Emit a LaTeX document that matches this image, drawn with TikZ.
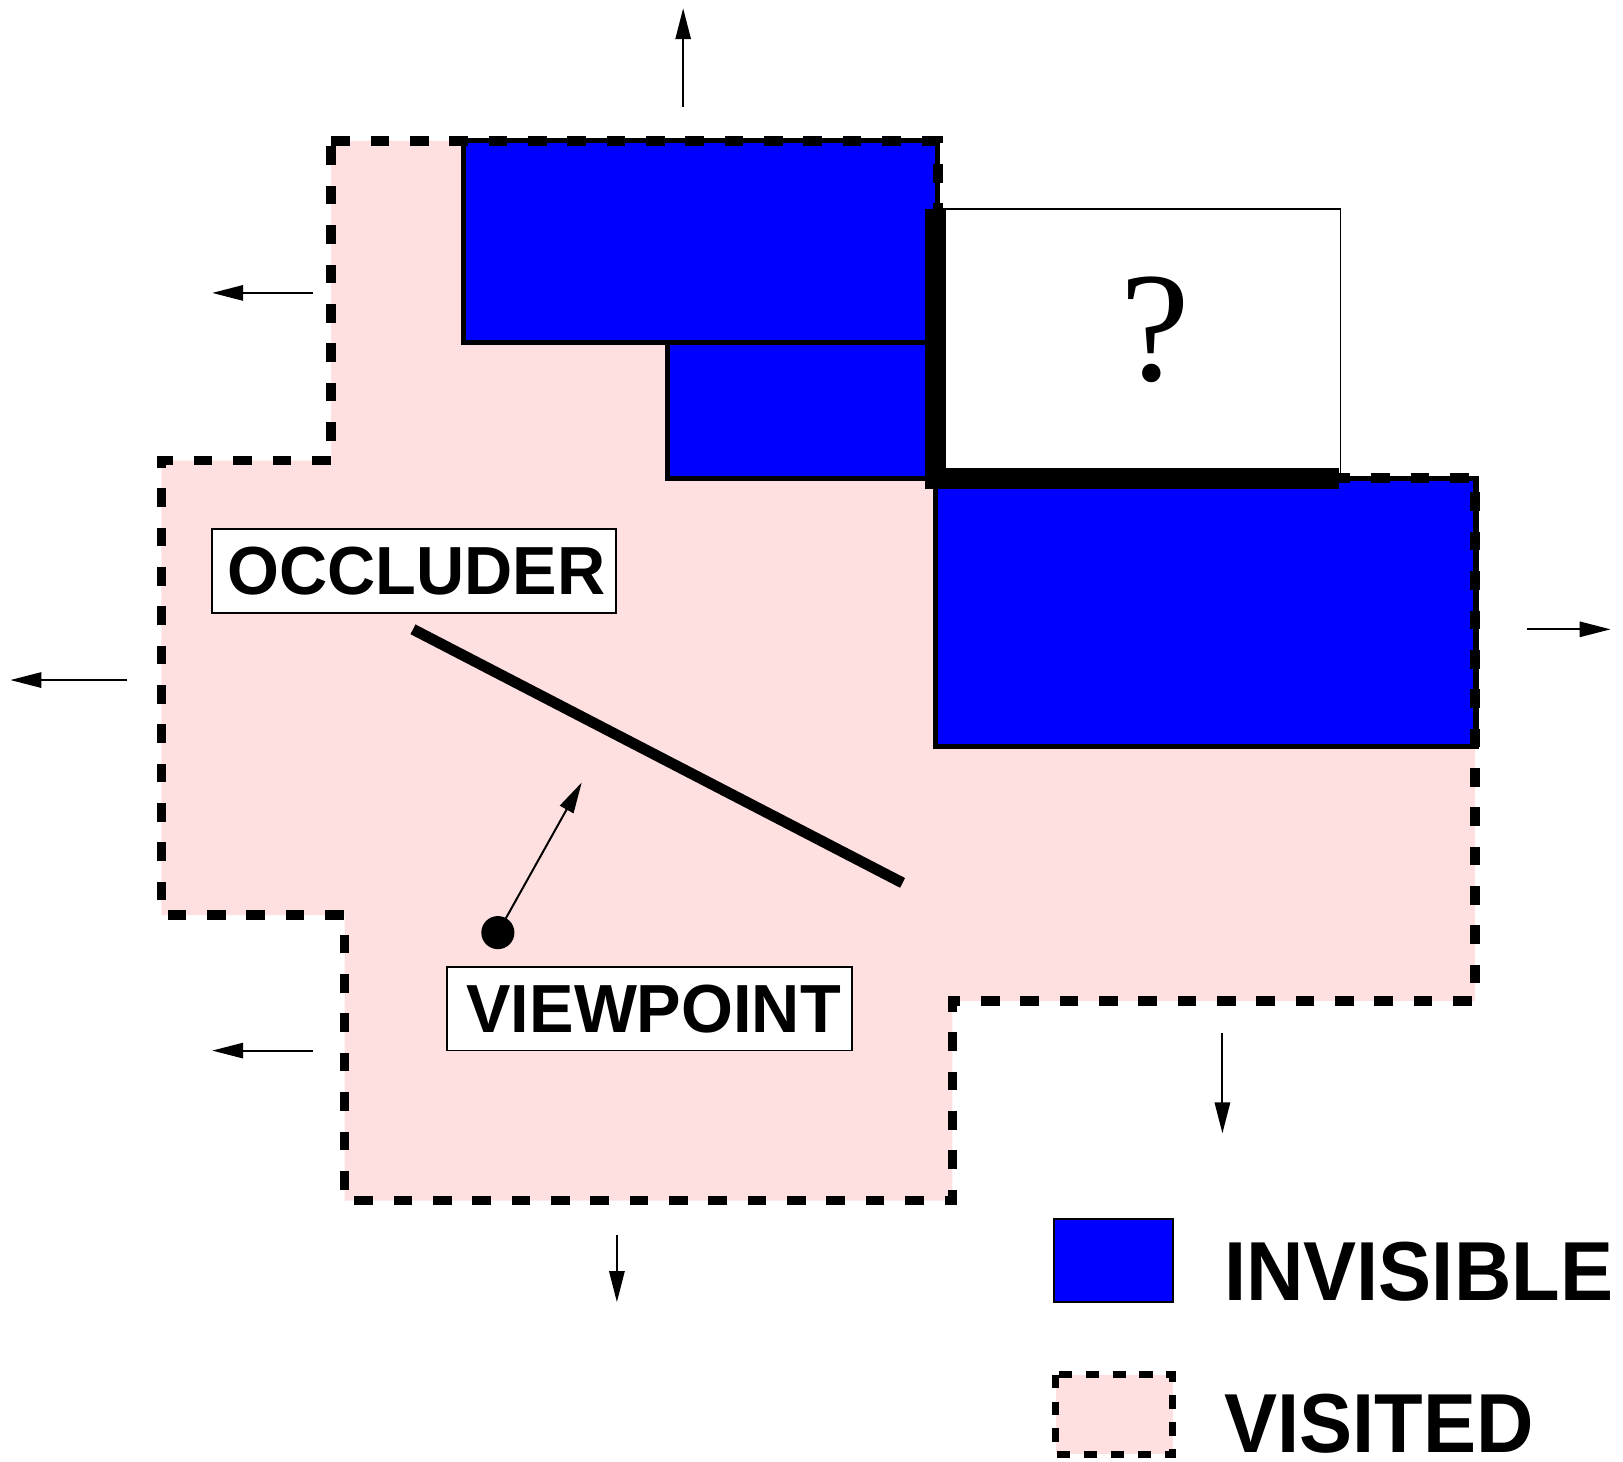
\documentclass[tikz,border=0pt]{standalone}
\usepackage{fontspec}
\setmainfont{Liberation Serif}
\newfontfamily\lsans{Liberation Sans}
\usetikzlibrary{arrows.meta}
\definecolor{visitedpink}{RGB}{255,224,224}
\definecolor{invisblue}{RGB}{0,0,255}
\begin{document}
\begin{tikzpicture}[x=0.01cm,y=-0.01cm,
  border/.style={line width=2.6pt, dash pattern=on 0.18cm off 0.2cm},
  invis/.style={fill=invisblue, draw=black, line width=1.45pt},
  push/.style={line width=0.55pt, -{Triangle[length=8.5pt,width=4.2pt]}},
  tag/.style={draw, fill=white, line width=0.45pt, inner sep=0pt,
    font=\lsans\bfseries\fontsize{18.7}{20}\selectfont},
  legendtext/.style={anchor=west, inner sep=0pt,
    font=\lsans\bfseries\fontsize{23}{25}\selectfont}
]
\useasboundingbox (0,0) rectangle (1568,1412);

% visited region
\fill[visitedpink] (320,136) -- (906,136) -- (906,462) -- (1425,462)
  -- (1425,967) -- (920,967) -- (920,1160) -- (333,1160) -- (333,884)
  -- (156,884) -- (156,445) -- (320,445) -- cycle;

% invisible cells
\draw[invis] (448,136) rectangle (906,331);
\draw[invis] (645,331) rectangle (906,462);
\draw[invis] (904,462) rectangle (1426,721);

% unknown cell
\draw[fill=white, line width=0.45pt] (904,202) rectangle (1295,462);
\node (q) at (1116,319) {\fontsize{43}{43}\selectfont ?};

% border of the visited region
\draw[border] (320,136) -- (906,136) -- (906,462) -- (1425,462)
  -- (1425,967) -- (920,967) -- (920,1160) -- (333,1160) -- (333,884)
  -- (156,884) -- (156,445) -- (320,445) -- cycle;

% boundary facing the unknown cell
\draw[line width=5.7pt, line join=miter] (904,202) |- (1294,462);

% occluder
\coordinate (occA) at (399,608);
\coordinate (occB) at (872,853);
\draw[line width=3pt] (occA) -- (occB);

% viewpoint
\coordinate (vp) at (481,901);
\coordinate (vdir) at (562,756);
\fill (vp) circle (16);
\draw[push] (vp) -- (vdir);

% expansion directions
\coordinate (t0) at (660,103);   \coordinate (t1) at (660,8);
\coordinate (l0) at (302,283);   \coordinate (l1) at (205,283);
\coordinate (m0) at (123,657);   \coordinate (m1) at (10,657);
\coordinate (n0) at (302,1015);  \coordinate (n1) at (205,1015);
\coordinate (r0) at (1475,608);  \coordinate (r1) at (1556,608);
\coordinate (d0) at (1181,998);  \coordinate (d1) at (1181,1095);
\coordinate (b0) at (596,1193);  \coordinate (b1) at (596,1258);
\foreach \s/\e in {t0/t1,l0/l1,m0/m1,n0/n1,r0/r1,d0/d1,b0/b1}
  \draw[push] (\s) -- (\e);

% labels
\node[tag, minimum width=3.9cm, minimum height=0.81cm] (occl) at (400,551.5)
  {\hspace*{0.05cm}\scalebox{0.98}[1]{OCCLUDER}};
\node[tag, minimum width=3.91cm, minimum height=0.81cm] (view) at (627.5,974.5)
  {\hspace*{0.08cm}\scalebox{0.98}[1]{VIEWPOINT}};

% legend
\draw[fill=invisblue, line width=0.5pt] (1018,1178) rectangle (1133,1258);
\node[legendtext] (linv) at (1182,1229) {\scalebox{0.95}[1]{INVISIBLE}};
\fill[visitedpink] (1020,1328) rectangle (1133,1405);
\draw[line width=2pt, dash pattern=on 0.13cm off 0.13cm] (1020,1328) rectangle (1133,1405);
\node[legendtext] (lvis) at (1182,1375) {\scalebox{0.95}[1]{VISITED}};
\end{tikzpicture}
\end{document}
